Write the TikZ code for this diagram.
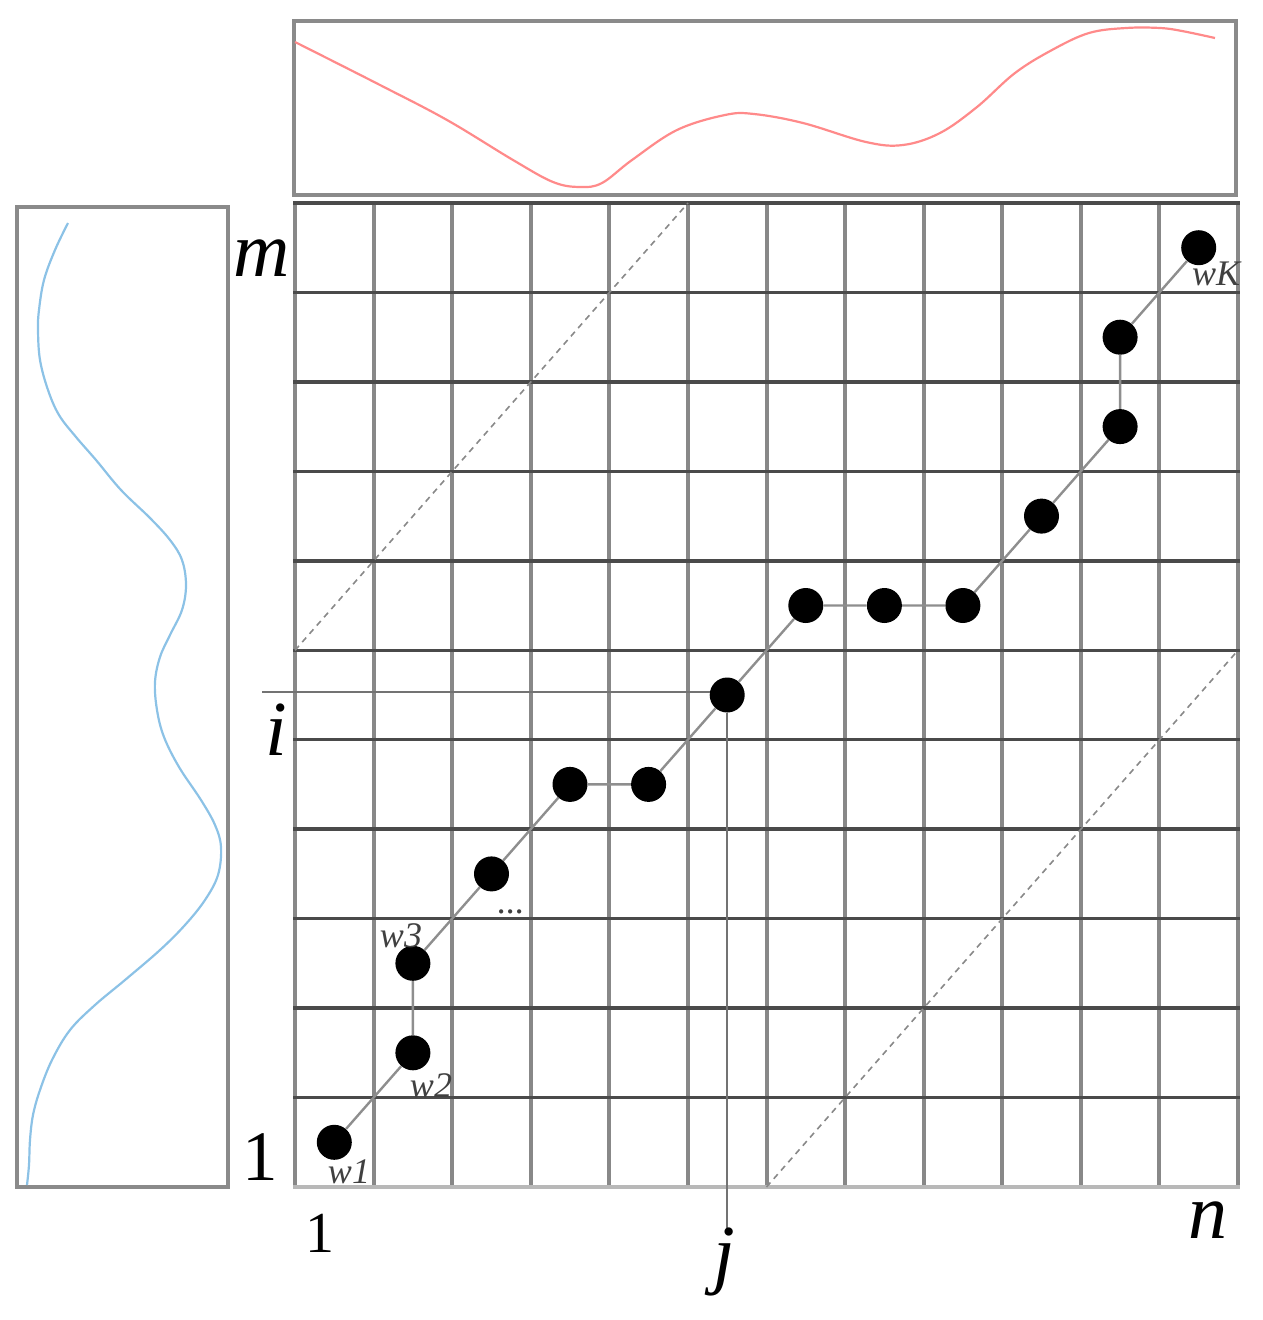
\documentclass[tikz,border=0pt]{standalone}
\usepackage{fontspec}
\setmainfont{Liberation Serif}
\definecolor{hlinec}{HTML}{4A4A4A}
\definecolor{vlinec}{HTML}{888888}
\definecolor{panelc}{HTML}{8A8A8A}
\definecolor{redc}{HTML}{FF8A8A}
\definecolor{bluec}{HTML}{8CC2E6}
\definecolor{pathc}{HTML}{8E8E8E}
\begin{document}
\begin{tikzpicture}[x=1pt,y=-1pt,
  panel/.style={draw=panelc,line width=3.5pt},
  redcurve/.style={draw=redc,line width=2.2pt},
  bluecurve/.style={draw=bluec,line width=2.2pt},
  vgrid/.style={draw=vlinec,line width=4pt},
  hgrid/.style={draw=hlinec,line width=3.5pt},
  diag/.style={draw=vlinec,line width=1.6pt,dash pattern=on 6pt off 5pt},
  dot/.style={circle,fill=black,minimum size=35pt,inner sep=0pt},
  walk/.style={draw=pathc,line width=2.4pt},
  idx/.style={draw=black!55,line width=2.2pt},
  biglabel/.style={inner sep=0pt,anchor=base,font=\fontsize{78}{80}\selectfont\itshape},
  smalllabel/.style={inner sep=0pt,anchor=base,text=black!75,font=\fontsize{36}{38}\selectfont\itshape}
]
\useasboundingbox (0,0) rectangle (1263,1320);
% side panels
\draw[panel] (17,207) rectangle (228,1187);
\draw[panel] (294,21) rectangle (1236,195);
\draw[bluecurve] plot[smooth,tension=0.6] coordinates {(68,223) (55,250) (44,280) (39,310) (38,330) (40,360) (48,390) (59,415) (76,437) (96,460) (121,490) (150,518) (170,540) (182,560) (186,585) (182,610) (170,635) (160,657) (155,682) (157,710) (164,737) (179,767) (201,800) (215,825) (221,847) (218,875) (205,900) (185,925) (160,950) (125,980) (95,1005) (70,1030) (52,1060) (40,1090) (33,1115) (30,1140) (29,1165) (27,1185)};
\draw[redcurve] plot[smooth,tension=0.6] coordinates {(295,42) (380,85) (447,120) (513,160) (553,182) (580,187) (602,183) (632,160) (677,130) (725,115) (754,114) (803,123) (866,142) (903,145) (940,133) (977,107) (1015,73) (1052,50) (1089,33) (1126,28) (1160,28) (1182,31) (1215,38)};
% grid
\foreach \k in {0,...,12}
  \draw[vgrid] ({295+78.583*\k},203) -- ({295+78.583*\k},1187);
\foreach \k in {0,...,10}
  \draw[hgrid] (293,{203+89.455*\k}) -- (1240,{203+89.455*\k});
\draw[draw=black!28,line width=4.5pt] (293,1187) -- (1240,1187);
% band limits
\coordinate (d1a) at (295,650.3);
\coordinate (d1b) at (688.0,203);
\coordinate (d2a) at (766.5,1187);
\coordinate (d2b) at (1238,650.3);
\draw[diag] (d1a) -- (d1b);
\draw[diag] (d2a) -- (d2b);
% warping path points
\node[dot] (p1)  at (334.3,1142.3) {};
\node[dot] (p2)  at (412.9,1052.8) {};
\node[dot] (p3)  at (412.9,963.3) {};
\node[dot] (p4)  at (491.5,873.9) {};
\node[dot] (p5)  at (570.0,784.4) {};
\node[dot] (p6)  at (648.6,784.4) {};
\node[dot] (p7)  at (727.2,695.0) {};
\node[dot] (p8)  at (805.8,605.5) {};
\node[dot] (p9)  at (884.4,605.5) {};
\node[dot] (p10) at (962.9,605.5) {};
\node[dot] (p11) at (1041.5,516.1) {};
\node[dot] (p12) at (1120.1,426.6) {};
\node[dot] (p13) at (1120.1,337.2) {};
\node[dot] (p14) at (1198.7,247.7) {};
\draw[walk] (p1) -- (p2) -- (p3) -- (p4) -- (p5) -- (p6) -- (p7) -- (p8) -- (p9) -- (p10) -- (p11) -- (p12) -- (p13) -- (p14);
% index lines
\coordinate (ileft) at (262,692);
\coordinate (jbot) at (727.2,1228);
\draw[idx] (ileft) -- (p7.west |- ileft);
\draw[idx] (p7) -- (jbot);
% labels
\node[biglabel] (lm) at (262,276) {m};
\node[biglabel] (li) at (276,755) {i};
\node[biglabel] (lj) at (724,1279) {j};
\node[biglabel] (ln) at (1208,1238) {n};
\node[inner sep=0pt,anchor=base,font=\fontsize{71}{73}\selectfont] (l1a) at (260,1180) {1};
\node[inner sep=0pt,anchor=base,font=\fontsize{58}{60}\selectfont] (l1b) at (320,1252) {1};
\node[smalllabel] (w1) at (349,1183) {w1};
\node[smalllabel] (w2) at (431,1097) {w2};
\node[smalllabel] (w3) at (401,947) {w3};
\node[smalllabel] (wd) at (511,913) {...};
\node[smalllabel] (wK) at (1216,285) {wK};
\end{tikzpicture}
\end{document}
